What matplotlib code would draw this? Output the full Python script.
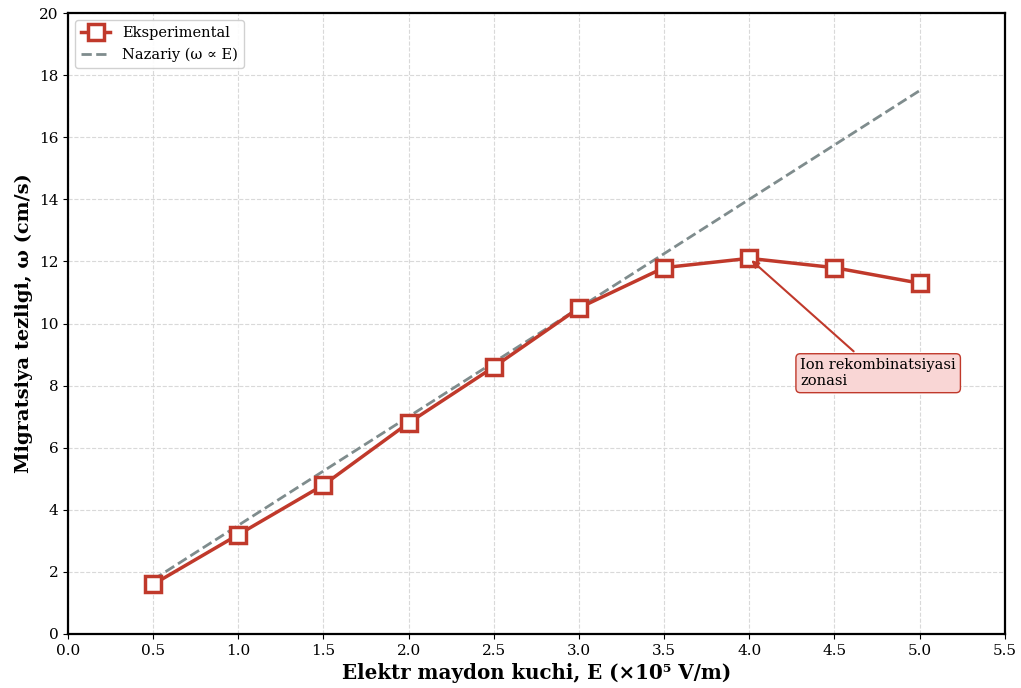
import numpy as np
import matplotlib
matplotlib.use("Agg")
import matplotlib.pyplot as plt

plt.rcParams['font.family'] = ['DejaVu Serif']

# measured data
field = [0.5, 1.0, 1.5, 2.0, 2.5, 3.0, 3.5, 4.0, 4.5, 5.0]
velocity = [1.6, 3.2, 4.8, 6.8, 8.6, 10.5, 11.8, 12.1, 11.8, 11.3]
# theory: omega proportional to E
theory_k = 3.5
theory = [theory_k * e for e in field]

red = '#c0392b'
grey = '#7f8c8d'

fig = plt.figure(figsize=(10.21, 6.88), dpi=100)
ax = fig.add_subplot(111)
fig.subplots_adjust(left=0.0666, right=0.984, top=0.981, bottom=0.0785)

ax.plot(field, velocity, '-s', color=red, lw=2.5, ms=12, mfc='white',
        mec=red, mew=2.5, label='Eksperimental', zorder=3)
ax.plot(field, theory, '--', color=grey, lw=2, label='Nazariy (ω ∝ E)', zorder=2)

ax.annotate('Ion rekombinatsiyasi\nzonasi', xy=(4.0, 12.1), xytext=(4.30, 8.4),
            ha='left', va='center', fontsize=10.5,
            arrowprops=dict(arrowstyle='->', color=red, lw=1.5),
            bbox=dict(boxstyle='round,pad=0.3', fc='#f9d6d5', ec=red, lw=1))

ax.set_xlim(0, 5.5)
ax.set_ylim(0, 20)
ax.set_xticks(np.arange(0, 5.51, 0.5))
ax.set_yticks(np.arange(0, 20.1, 2))
ax.tick_params(labelsize=11)
ax.grid(True, linestyle='--', color='#d9d9d9', lw=0.8)
for s in ax.spines.values():
    s.set_linewidth(1.6)

ax.set_xlabel('Elektr maydon kuchi, E (×10⁵ V/m)', fontsize=14.3, fontweight='bold')
ax.set_ylabel('Migratsiya tezligi, ω (cm/s)', fontsize=14, fontweight='bold')
ax.legend(loc='upper left', fontsize=10.5, framealpha=0.9)

plt.savefig('out.png', dpi=100)
